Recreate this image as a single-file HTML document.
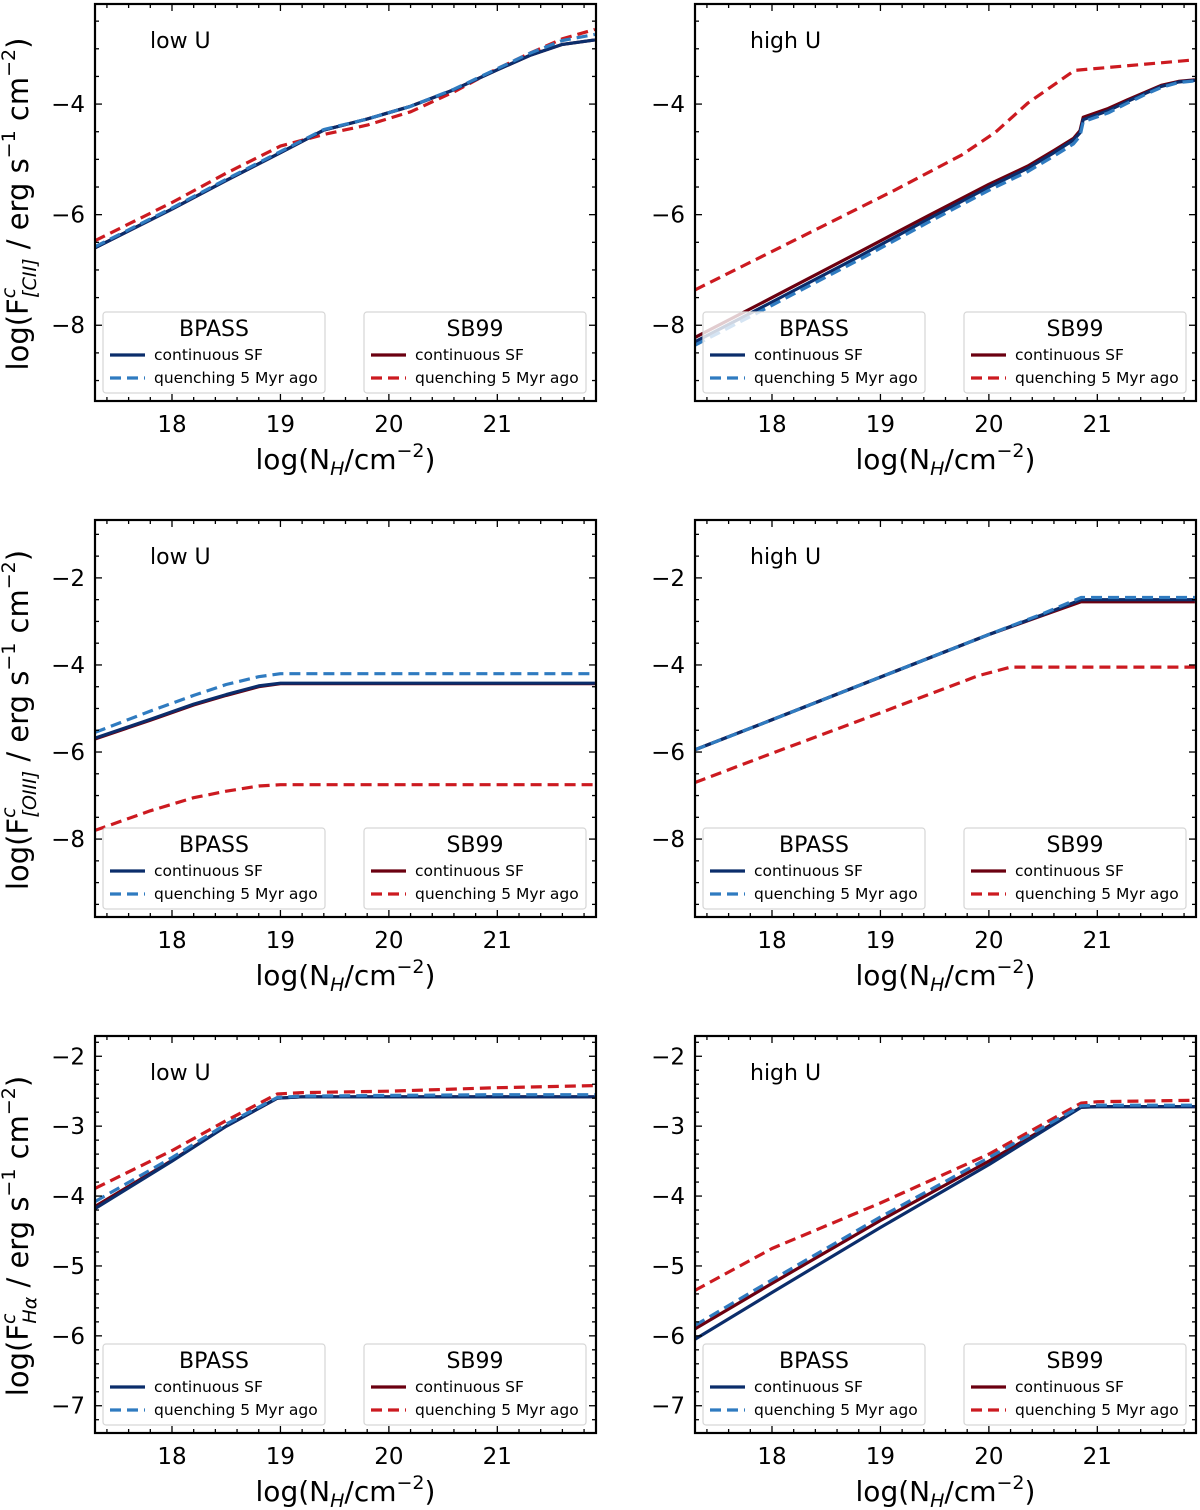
<!DOCTYPE html>
<html><head><meta charset="utf-8"><style>
html,body{margin:0;padding:0;background:#fff;}
svg{display:block;font-family:"DejaVu Sans","Liberation Sans",sans-serif;}
</style></head><body>
<svg id="fig" width="1200" height="1510" viewBox="0 0 1200 1510" xmlns="http://www.w3.org/2000/svg"></svg>
<script>
// ---- data (x = log N_H, y = log flux) ----
// Row 1: [CII]
const cii_low_x = [17.29,18.0,18.5,19.0,19.4,19.8,20.2,20.6,21.0,21.3,21.6,21.9];
const cii_low_bpass_cont_y = [-6.6,-5.9,-5.38,-4.88,-4.47,-4.27,-4.04,-3.74,-3.38,-3.12,-2.92,-2.84];
const cii_low_bpass_q_y    = [-6.58,-5.88,-5.36,-4.86,-4.46,-4.27,-4.04,-3.73,-3.36,-3.08,-2.85,-2.74];
const cii_low_sb_cont_y    = [-6.6,-5.9,-5.38,-4.88,-4.47,-4.27,-4.04,-3.74,-3.38,-3.12,-2.92,-2.84];
const cii_low_sb_q_y       = [-6.47,-5.78,-5.25,-4.76,-4.55,-4.38,-4.14,-3.78,-3.36,-3.08,-2.82,-2.65];

const cii_high_x       = [17.29,18.0,18.8,19.44,20.0,20.36,20.6,20.78,20.84,20.87,21.1,21.28,21.45,21.59,21.75,21.9];
const cii_high_bpass_cont_y = [-8.3,-7.58,-6.76,-6.08,-5.5,-5.16,-4.88,-4.65,-4.52,-4.28,-4.12,-3.95,-3.8,-3.68,-3.6,-3.57];
const cii_high_bpass_q_y    = [-8.36,-7.64,-6.82,-6.14,-5.56,-5.22,-4.94,-4.72,-4.58,-4.32,-4.16,-3.98,-3.82,-3.7,-3.61,-3.58];
const cii_high_sb_cont_y    = [-8.22,-7.5,-6.68,-6.02,-5.45,-5.12,-4.84,-4.62,-4.48,-4.24,-4.08,-3.92,-3.78,-3.66,-3.59,-3.56];
const cii_high_sb_q_x = [17.29,18.21,19.13,19.75,20.06,20.36,20.79,21.9];
const cii_high_sb_q_y = [-7.36,-6.46,-5.56,-4.92,-4.51,-3.98,-3.39,-3.2];

// Row 2: [OIII]
const oiii_low_x = [17.29,17.8,18.2,18.5,18.8,19.0,20.0,21.0,21.9];
const oiii_low_bpass_cont_y = [-5.68,-5.25,-4.9,-4.68,-4.48,-4.42,-4.42,-4.42,-4.42];
const oiii_low_bpass_q_y    = [-5.55,-5.06,-4.7,-4.45,-4.27,-4.2,-4.2,-4.2,-4.2];
const oiii_low_sb_cont_y    = [-5.7,-5.27,-4.92,-4.7,-4.5,-4.43,-4.43,-4.43,-4.43];
const oiii_low_sb_q_y       = [-7.8,-7.35,-7.05,-6.9,-6.78,-6.75,-6.75,-6.75,-6.75];

const oiii_high_x = [17.29,18.0,19.0,20.0,20.5,20.85,21.0,21.9];
const oiii_high_bpass_cont_y = [-5.95,-5.26,-4.28,-3.3,-2.84,-2.5,-2.5,-2.5];
const oiii_high_bpass_q_y    = [-5.95,-5.26,-4.28,-3.3,-2.82,-2.45,-2.45,-2.45];
const oiii_high_sb_cont_y    = [-5.95,-5.26,-4.28,-3.3,-2.86,-2.55,-2.55,-2.55];
const oiii_high_sb_q_x = [17.29,18.0,19.0,19.9,20.2,21.0,21.9];
const oiii_high_sb_q_y = [-6.7,-6.03,-5.1,-4.25,-4.05,-4.05,-4.05];

// Row 3: H-alpha
const ha_low_x = [17.29,18.0,18.5,18.97,19.2,20.0,21.0,21.9];
const ha_low_bpass_cont_y = [-4.18,-3.5,-3.0,-2.6,-2.58,-2.58,-2.58,-2.58];
const ha_low_bpass_q_y    = [-4.08,-3.45,-2.97,-2.59,-2.57,-2.56,-2.55,-2.55];
const ha_low_sb_cont_y    = [-4.15,-3.49,-3.0,-2.6,-2.58,-2.58,-2.58,-2.58];
const ha_low_sb_q_y       = [-3.89,-3.35,-2.92,-2.54,-2.52,-2.5,-2.45,-2.42];

const ha_high_x = [17.29,18.0,19.0,20.0,20.85,21.0,21.9];
const ha_high_bpass_cont_y = [-6.05,-5.38,-4.45,-3.55,-2.73,-2.72,-2.72];
const ha_high_bpass_q_y    = [-5.85,-5.2,-4.3,-3.45,-2.71,-2.7,-2.7];
const ha_high_sb_cont_y    = [-5.9,-5.25,-4.35,-3.5,-2.73,-2.72,-2.72];
const ha_high_sb_q_y       = [-5.35,-4.75,-4.1,-3.4,-2.67,-2.65,-2.63];

const xTicks = [18,19,20,21];

const NS = "http://www.w3.org/2000/svg";
const svg = document.getElementById('fig');
function mk(tag, attrs, parent){
  const e = document.createElementNS(NS, tag);
  for (const k in attrs) e.setAttribute(k, attrs[k]);
  (parent||svg).appendChild(e);
  return e;
}
const C = {navy:'#0b2d6b', blue:'#2f7bc0', dred:'#6b0010', red:'#cc1a20'};

function panel(opt){
  const L=opt.left, R=opt.left+501, T=opt.top, B=opt.top+397;
  const g = mk('g',{});
  
  
  const xs = v => L + (v-17.29)/(21.91-17.29)*(R-L);
  const ys = v => B - (v-opt.ymin)/(opt.ymax-opt.ymin)*(B-T);
  opt.series.forEach(s=>{
    let d='';
    s.x.forEach((xv,i)=>{ d += (i?'L':'M') + xs(xv).toFixed(1)+','+ys(s.y[i]).toFixed(1); });
    const p = mk('path',{d:d, fill:'none', stroke:s.c, 'stroke-width':3.2, 'stroke-dasharray':s.dash?'11,6':'none','stroke-linejoin':'round'}, g);
    
    
  });
  for (let v=17.4; v<21.91; v+=0.2){
    const X=xs(v); const major = xTicks.some(t=>Math.abs(t-v)<1e-6);
    const len = major?7:4;
    mk('line',{x1:X,x2:X,y1:B,y2:B-len,stroke:'#000','stroke-width':1.3},g);
    mk('line',{x1:X,x2:X,y1:T,y2:T+len,stroke:'#000','stroke-width':1.3},g);
  }
  xTicks.forEach(t=>{
    const tx = mk('text',{x:xs(t), y:B+31, 'font-size':23, 'text-anchor':'middle'}, g);
    tx.textContent = t;
    
    
  });
  const start = Math.ceil(opt.ymin/opt.minor)*opt.minor;
  for (let v=start; v<=opt.ymax+1e-9; v+=opt.minor){
    const Y=ys(v); const major = opt.yTicks.some(t=>Math.abs(t-v)<1e-6);
    const len = major?7:4;
    mk('line',{x1:L,x2:L+len,y1:Y,y2:Y,stroke:'#000','stroke-width':1.3},g);
    mk('line',{x1:R,x2:R-len,y1:Y,y2:Y,stroke:'#000','stroke-width':1.3},g);
  }
  opt.yTicks.forEach(t=>{
    const tx = mk('text',{x:L-10, y:ys(t)+8, 'font-size':23, 'text-anchor':'end'}, g);
    tx.textContent = '\u2212'+Math.abs(t);
    
    
  });
  mk('rect',{x:L,y:T,width:R-L,height:B-T,fill:'none',stroke:'#000','stroke-width':2.2},g);
  const pt = mk('text',{x:L+55, y:T+44, 'font-size':22}, g);
  pt.textContent = opt.label;
  
  
  const xt = mk('text',{x:(L+R)/2, y:B+68, 'font-size':28, 'text-anchor':'middle'}, g);
  xt.innerHTML = 'log(N<tspan font-size="19" font-style="italic" dy="6">H</tspan><tspan dy="-6">/cm</tspan><tspan font-size="19" dy="-12">\u22122</tspan><tspan dy="12">)</tspan>';
  
  
  [['BPASS',C.navy,C.blue,8],['SB99',C.dred,C.red,269]].forEach(lg=>{
    const lx=L+lg[3], ly=T+308;
    const lgG = mk('g',{}, g);
    
    
    mk('rect',{x:lx,y:ly,width:222,height:81,rx:3,fill:'#fff','fill-opacity':0.8,stroke:'#d6d6d6','stroke-width':1.2},lgG);
    const tt = mk('text',{x:lx+111,y:ly+24,'font-size':22,'text-anchor':'middle'},lgG);
    tt.textContent = lg[0];
    mk('line',{x1:lx+7,x2:lx+42,y1:ly+43,y2:ly+43,stroke:lg[1],'stroke-width':3.2},lgG);
    mk('line',{x1:lx+7,x2:lx+42,y1:ly+66,y2:ly+66,stroke:lg[2],'stroke-width':3.2,'stroke-dasharray':'11,6'},lgG);
    const e1 = mk('text',{x:lx+51,y:ly+48,'font-size':15.5},lgG); e1.textContent='continuous SF';
    const e2 = mk('text',{x:lx+51,y:ly+71,'font-size':15.5},lgG); e2.textContent='quenching 5 Myr ago';
  });
}

function yTitle(cx, cy, sub){
  const t = mk('text',{transform:`translate(${cx},${cy}) rotate(-90)`, 'font-size':29, 'text-anchor':'middle'});
  t.innerHTML = 'log(F<tspan font-size="19" font-style="italic" dy="-13">c</tspan><tspan font-size="19" font-style="italic" dx="-10" dy="21">'+sub+'</tspan><tspan dy="-8"> / erg s</tspan><tspan font-size="19" dy="-13">\u22121</tspan><tspan dy="13"> cm</tspan><tspan font-size="19" dy="-13">\u22122</tspan><tspan dy="13">)</tspan>';
  
  
}

const rows = [
  {top:4, ymin:-9.37, ymax:-2.19, minor:0.5, yTicks:[-4,-6,-8], sub:'[CII]', key:'cii',
   low:[[cii_low_x,cii_low_bpass_cont_y],[cii_low_x,cii_low_bpass_q_y],[cii_low_x,cii_low_sb_cont_y],[cii_low_x,cii_low_sb_q_y]],
   high:[[cii_high_x,cii_high_bpass_cont_y],[cii_high_x,cii_high_bpass_q_y],[cii_high_x,cii_high_sb_cont_y],[cii_high_sb_q_x,cii_high_sb_q_y]]},
  {top:520, ymin:-9.79, ymax:-0.67, minor:0.5, yTicks:[-2,-4,-6,-8], sub:'[OIII]', key:'oiii',
   low:[[oiii_low_x,oiii_low_bpass_cont_y],[oiii_low_x,oiii_low_bpass_q_y],[oiii_low_x,oiii_low_sb_cont_y],[oiii_low_x,oiii_low_sb_q_y]],
   high:[[oiii_high_x,oiii_high_bpass_cont_y],[oiii_high_x,oiii_high_bpass_q_y],[oiii_high_x,oiii_high_sb_cont_y],[oiii_high_sb_q_x,oiii_high_sb_q_y]]},
  {top:1036, ymin:-7.39, ymax:-1.71, minor:0.2, yTicks:[-2,-3,-4,-5,-6,-7], sub:'H\u03b1', key:'halpha',
   low:[[ha_low_x,ha_low_bpass_cont_y],[ha_low_x,ha_low_bpass_q_y],[ha_low_x,ha_low_sb_cont_y],[ha_low_x,ha_low_sb_q_y]],
   high:[[ha_high_x,ha_high_bpass_cont_y],[ha_high_x,ha_high_bpass_q_y],[ha_high_x,ha_high_sb_cont_y],[ha_high_x,ha_high_sb_q_y]]}
];
const styles = [[C.navy,false,'bpass-continuous-line'],[C.blue,true,'bpass-quenching-line'],[C.dred,false,'sb99-continuous-line'],[C.red,true,'sb99-quenching-line']];
const order = [2,3,0,1];
rows.forEach(r=>{
  [['low',95,'low U'],['high',695,'high U']].forEach(p=>{
    const arr = r[p[0]];
    panel({left:p[1], top:r.top, ymin:r.ymin, ymax:r.ymax, minor:r.minor, yTicks:r.yTicks, label:p[2],
      name:r.key+'-'+p[0]+'-u-panel',
      series: order.map(i=>({x:arr[i][0], y:arr[i][1], c:styles[i][0], dash:styles[i][1], name:styles[i][2]}))});
  });
  yTitle(28, r.top+200, r.sub);
});
</script>
</body></html>
